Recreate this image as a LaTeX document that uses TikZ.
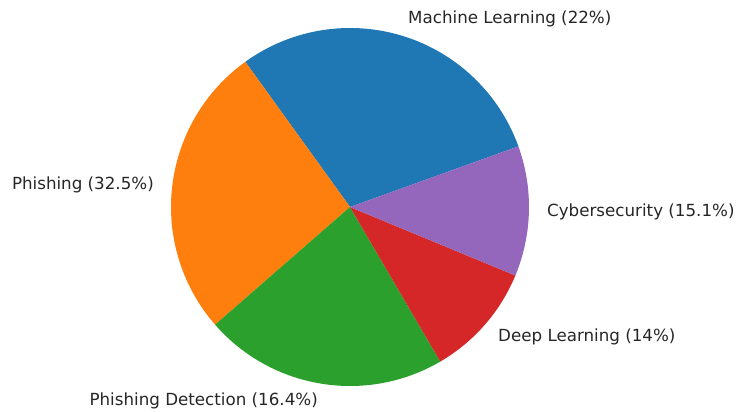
\documentclass[tikz,border=0pt]{standalone}
\usepackage{fontspec}
\setmainfont{DejaVu Sans}

\definecolor{tabblue}{HTML}{1F77B4}
\definecolor{taborange}{HTML}{FF7F0E}
\definecolor{tabgreen}{HTML}{2CA02C}
\definecolor{tabred}{HTML}{D62728}
\definecolor{tabpurple}{HTML}{9467BD}

\tikzset{
  lbl/.style={inner sep=0pt,text=black!85,font=\fontsize{16.7}{20}\selectfont}
}

\begin{document}
\begin{tikzpicture}[x=1pt,y=-1pt]

\useasboundingbox (0,0) rectangle (737,412);

\coordinate (c) at (350,207);

%SLICES
\fill[tabblue] (c) -- ++(19.8:179pt) arc[start angle=19.8, end angle=125.8, radius=179pt] -- cycle;
\fill[taborange] (c) -- ++(125.8:179pt) arc[start angle=125.8, end angle=221.1, radius=179pt] -- cycle;
\fill[tabgreen] (c) -- ++(221.1:179pt) arc[start angle=221.1, end angle=300.3, radius=179pt] -- cycle;
\fill[tabred] (c) -- ++(300.3:179pt) arc[start angle=300.3, end angle=337.5, radius=179pt] -- cycle;
\fill[tabpurple] (c) -- ++(337.5:179pt) arc[start angle=337.5, end angle=379.8, radius=179pt] -- cycle;

%LABELS
\node[lbl,anchor=west](ml) at (408,19) {Machine Learning (22\%)};
\node[lbl,anchor=east](ph) at (154,185) {Phishing (32.5\%)};
\node[lbl,anchor=east](pd) at (318,401) {Phishing Detection (16.4\%)};
\node[lbl,anchor=west](dl) at (498,336.5) {Deep Learning (14\%)};
\node[lbl,anchor=west](cy) at (547,212) {Cybersecurity (15.1\%)};

\end{tikzpicture}
\end{document}
